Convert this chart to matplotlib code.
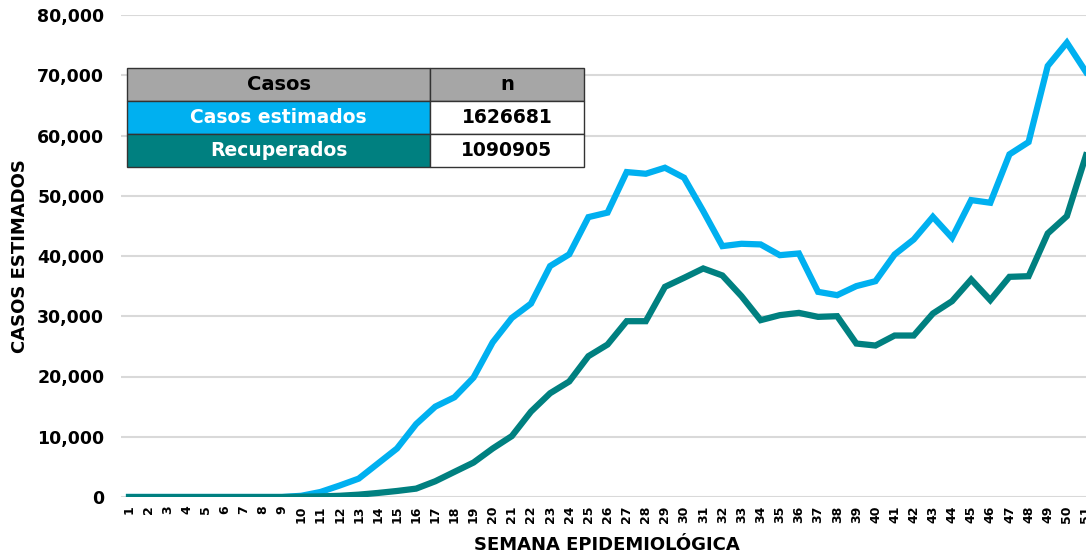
import matplotlib
matplotlib.use("Agg")
import matplotlib.pyplot as plt
from matplotlib.patches import Rectangle
from matplotlib.ticker import FuncFormatter

weeks = list(range(1, 52))
casos_estimados = [0, 0, 0, 0, 0, 0, 0, 0, 0, 200,
                   830, 1900, 3050, 5550, 8050, 12100, 15000, 16550, 19830, 25670,
                   29720, 32100, 38330, 40280, 46450, 47200, 53930, 53650, 54650, 52990,
                   47450, 41640, 42030, 41920, 40140, 40420, 34050, 33500, 35000, 35820,
                   40250, 42750, 46500, 43020, 49280, 48840, 56870, 58910, 71540, 75410,
                   70540]
recuperados = [0, 0, 0, 0, 0, 0, 0, 0, 0, 50,
               100, 200, 390, 670, 1000, 1390, 2610, 4170, 5720, 8050,
               10110, 14170, 17220, 19170, 23370, 25300, 29180, 29180, 34880, 36380,
               37930, 36770, 33330, 29350, 30180, 30560, 29900, 30010, 25470, 25140,
               26800, 26800, 30450, 32500, 36100, 32670, 36540, 36650, 43740, 46620,
               56700]

table_header = ["Casos", "n"]
table_labels = ["Casos estimados", "Recuperados"]
table_values = ["1626681", "1090905"]

c_blue = "#00B0F0"
c_teal = "#008080"

plt.rcParams['font.family'] = ['DejaVu Sans']
fig = plt.figure(figsize=(10.86, 5.56), dpi=100)
ax = fig.add_axes([121/1086, 1-497/556, 1-121/1086, (497-15)/556])

ax.plot(weeks, casos_estimados, color=c_blue, lw=4.5, solid_joinstyle='miter', zorder=3)
ax.plot(weeks, recuperados, color=c_teal, lw=4.5, solid_joinstyle='miter', zorder=3)

ax.set_xlim(0.58, 51)
ax.set_ylim(0, 80000)
ax.set_yticks(range(0, 80001, 10000))
ax.yaxis.set_major_formatter(FuncFormatter(lambda v, p: f"{int(v):,}"))
ax.set_xticks(weeks)
ax.set_xticklabels([str(w) for w in weeks], rotation=90, fontsize=9, fontweight='bold')
for lab in ax.get_yticklabels():
    lab.set_fontweight('bold')
    lab.set_fontsize(12.5)
ax.tick_params(axis='both', length=0)
ax.tick_params(axis='y', pad=12)
ax.tick_params(axis='x', pad=6)
ax.grid(axis='y', color='#D9D9D9', lw=1.5)
ax.set_axisbelow(True)
for s in ax.spines.values():
    s.set_visible(False)

ax.set_ylabel("CASOS ESTIMADOS", fontsize=13, fontweight='bold')
ax.yaxis.set_label_coords((29-121)/965, 0.5)
ax.set_xlabel("SEMANA EPIDEMIOLÓGICA", fontsize=13, fontweight='bold')
ax.xaxis.set_label_coords((607-121)/965, -(536-497)/482)

# table
W, H = 1086, 556
x0, x1, x2 = 127, 430, 584
rows_y = [68, 101, 134, 167]
fills = [("#A6A6A6", "#A6A6A6"), (c_blue, "white"), (c_teal, "white")]
texts = [table_header, [table_labels[0], table_values[0]], [table_labels[1], table_values[1]]]
tcolors = [("black", "black"), ("white", "black"), ("white", "black")]
for i in range(3):
    ya, yb = rows_y[i], rows_y[i+1]
    for j, (xa, xb) in enumerate([(x0, x1), (x1, x2)]):
        r = Rectangle((xa/W, 1-yb/H), (xb-xa)/W, (yb-ya)/H, transform=fig.transFigure,
                      facecolor=fills[i][j], edgecolor='#333333', lw=1.0, zorder=10)
        fig.patches.append(r)
        fig.text((xa+xb)/2/W, 1-(ya+yb)/2/H, texts[i][j], ha='center', va='center',
                 fontsize=14 if i == 0 else 13.5, fontweight='bold', color=tcolors[i][j], zorder=11)

fig.savefig("out.png", dpi=100)
